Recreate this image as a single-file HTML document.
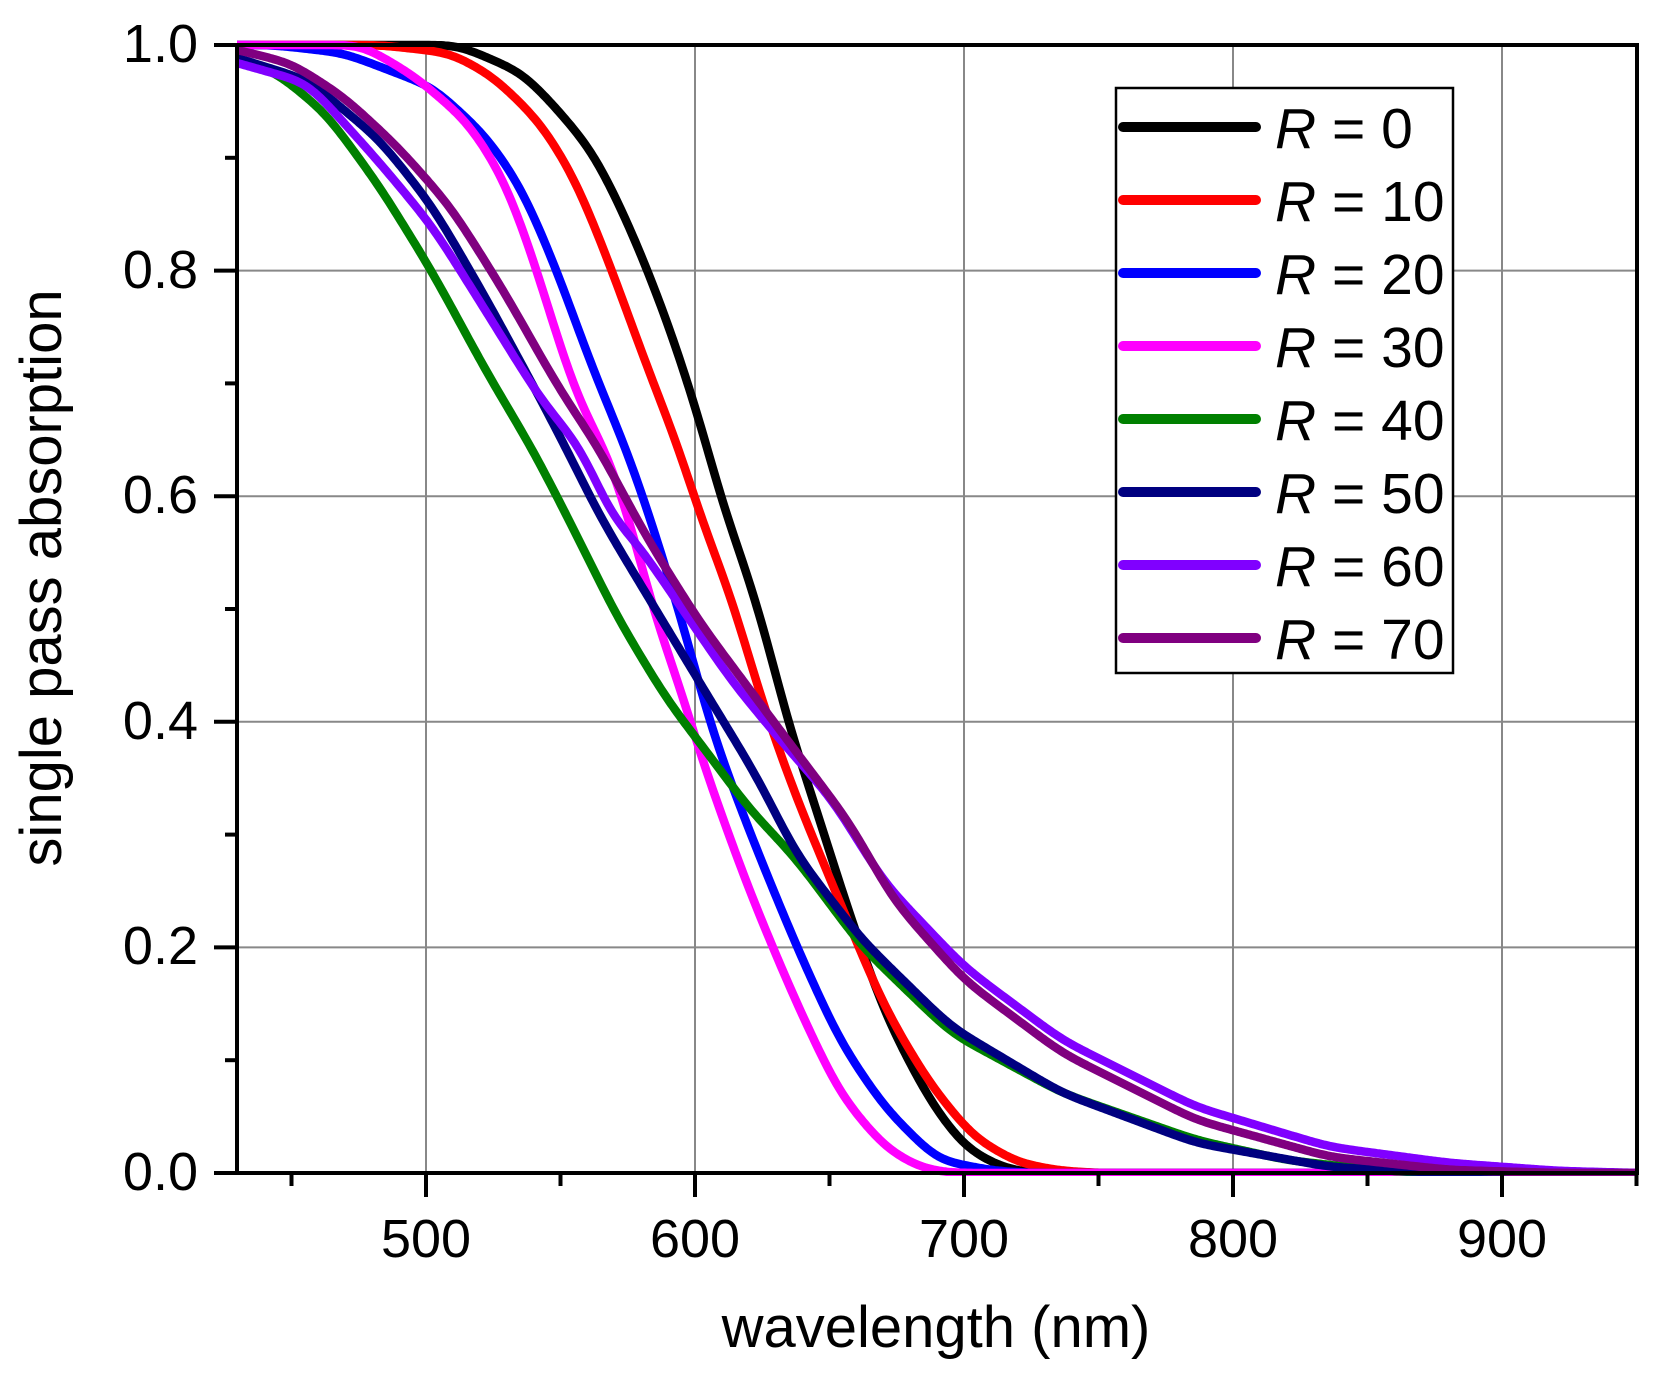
<!DOCTYPE html>
<html><head><meta charset="utf-8"><style>
html,body{margin:0;padding:0;background:#fff;}
svg{display:block;font-family:"Liberation Sans",Arial,sans-serif;}
</style></head><body>
<svg id="s" width="1662" height="1379" viewBox="0 0 1662 1379" xmlns="http://www.w3.org/2000/svg">
<defs><clipPath id="c"><rect x="237" y="40" width="1400" height="1136"/></clipPath></defs>
<g stroke="#888" stroke-width="2">
<line x1="426" y1="45" x2="426" y2="1173"/><line x1="695" y1="45" x2="695" y2="1173"/>
<line x1="964" y1="45" x2="964" y2="1173"/><line x1="1233" y1="45" x2="1233" y2="1173"/>
<line x1="1502" y1="45" x2="1502" y2="1173"/>
<line x1="237" y1="947.4" x2="1637" y2="947.4"/><line x1="237" y1="721.8" x2="1637" y2="721.8"/>
<line x1="237" y1="496.2" x2="1637" y2="496.2"/><line x1="237" y1="270.6" x2="1637" y2="270.6"/>
</g>
<g id="curves" clip-path="url(#c)" fill="none" stroke-width="8.5" stroke-linejoin="round" stroke-linecap="round"></g>
<g stroke="#000" stroke-width="4" fill="none">
<rect x="237" y="45" width="1400" height="1128"/>
</g>
<g id="ticks" stroke="#000" stroke-width="4"></g>
<g font-size="54" fill="#000" text-anchor="end">
<text x="198" y="1190">0.0</text><text x="198" y="964">0.2</text><text x="198" y="739">0.4</text>
<text x="198" y="513">0.6</text><text x="198" y="288">0.8</text><text x="198" y="62">1.0</text>
</g>
<g font-size="54" fill="#000" text-anchor="middle">
<text x="426" y="1257">500</text><text x="695" y="1257">600</text><text x="964" y="1257">700</text>
<text x="1233" y="1257">800</text><text x="1502" y="1257">900</text>
</g>
<text x="936" y="1347" font-size="58" text-anchor="middle">wavelength (nm)</text>
<text transform="translate(61,578) rotate(-90)" font-size="58" text-anchor="middle">single pass absorption</text>
<rect x="1116" y="88" width="337" height="585" fill="#fff" stroke="#000" stroke-width="2.5"/>
<g id="leg"></g>
</svg>
<script>
var ns="http://www.w3.org/2000/svg";
function el(t,a,p){var e=document.createElementNS(ns,t);for(var k in a)e.setAttribute(k,a[k]);p.appendChild(e);return e;}
var tk=document.getElementById('ticks');
for(var v=450;v<=950;v+=50){var x=426+(v-500)*2.69;var maj=(v%100==0);el('line',{x1:x,y1:1173,x2:x,y2:maj?1197:1186},tk);}
for(var i=0;i<=10;i++){var y=1173-i*112.8;var maj=(i%2==0);el('line',{x1:maj?214:225,y1:y,x2:237,y2:y},tk);}
var C=[
["#000",[[237,45],[458,45],[523,73],[558,110],[594,153],[630,227],[666,317],[701,423],[726,520],[740,550],[767,637],[787,723],[807,780],[848,910],[884,1013],[929,1100],[964,1147],[1000,1167],[1030,1173],[1640,1173]]],
["#ff0000",[[237,45],[380,45],[451,53],[494,77],[541,123],[576,180],[612,270],[648,370],[680,450],[701,520],[733,600],[760,697],[797,800],[839,900],[884,1007],[929,1083],[973,1137],[1018,1163],[1062,1171],[1100,1173],[1640,1173]]],
["#0000ff",[[237,45],[273,45],[344,53],[433,87],[487,137],[523,190],[558,273],[594,373],[627,450],[651,520],[687,637],[710,727],[750,833],[795,943],[839,1040],[884,1107],[937,1160],[995,1171],[1030,1173],[1640,1173]]],
["#ff00ff",[[237,45],[362,45],[416,77],[469,123],[505,180],[533,257],[558,340],[580,407],[607,450],[630,520],[657,627],[680,683],[693,733],[710,783],[750,893],[795,1000],[839,1093],[884,1147],[920,1168],[950,1173],[1640,1173]]],
["#008000",[[237,60],[273,70],[326,113],[380,187],[433,273],[487,373],[533,450],[569,520],[617,617],[667,700],[700,743],[750,810],[795,857],[862,947],[951,1033],[1062,1093],[1196,1140],[1286,1160],[1375,1170],[1430,1173],[1640,1173]]],
["#000080",[[237,58],[308,80],[380,140],[433,207],[487,300],[541,400],[567,450],[600,517],[650,600],[700,683],[759,780],[795,853],[862,940],[951,1027],[1062,1093],[1196,1143],[1330,1167],[1420,1172],[1640,1173]]],
["#8000ff",[[237,63],[308,83],[380,163],[433,227],[487,313],[541,400],[583,450],[612,520],[633,537],[683,610],[733,683],[783,743],[833,800],[884,883],[964,967],[1062,1040],[1196,1107],[1330,1147],[1450,1163],[1560,1171],[1640,1173]]],
["#800080",[[237,50],[291,63],[344,97],[398,147],[451,207],[505,293],[558,387],[600,450],[637,520],[650,543],[700,623],[750,690],[800,757],[850,823],[893,900],[964,980],[1062,1053],[1196,1120],[1330,1157],[1450,1170],[1560,1173],[1640,1173]]]
];
function lin(p,x){for(var i=0;i<p.length-1;i++){if(x<=p[i+1][0]){var t=(x-p[i][0])/(p[i+1][0]-p[i][0]);return p[i][1]+t*(p[i+1][1]-p[i][1]);}}return p[p.length-1][1];}
function smooth(p){var x0=200,x1=1680,raw=[];
for(var x=x0;x<=x1;x++){var y;if(x<p[0][0]){var s=(p[1][1]-p[0][1])/(p[1][0]-p[0][0]);y=p[0][1]+s*(x-p[0][0]);}else y=lin(p,x);raw.push(y);}
var sg=14,R=42,w=[],ws=0;for(var k=-R;k<=R;k++){var v=Math.exp(-k*k/(2*sg*sg));w.push(v);ws+=v;}
var d="";for(var x=237;x<=1640;x+=2){var i=x-x0,acc=0;for(var k=-R;k<=R;k++){var j=Math.min(Math.max(i+k,0),raw.length-1);acc+=w[k+R]*raw[j];}
var y=acc/ws;y=Math.min(Math.max(y,45),1173);d+=(d?" L":"M")+x+","+y.toFixed(1);}return d;}
var g=document.getElementById('curves');
C.forEach(function(c){el('path',{d:smooth(c[1]),stroke:c[0]},g);});
var lg=document.getElementById('leg');var names=["0","10","20","30","40","50","60","70"];
C.forEach(function(c,i){var y=127+i*73;el('line',{x1:1123,y1:y,x2:1256,y2:y,stroke:c[0],'stroke-width':10,'stroke-linecap':'round'},lg);
var t=el('text',{x:1275,y:y+21,'font-size':57},lg);var r=el('tspan',{'font-style':'italic'},t);r.textContent="R";var s=el('tspan',{},t);s.textContent=" = "+names[i];});
</script>
</body></html>
